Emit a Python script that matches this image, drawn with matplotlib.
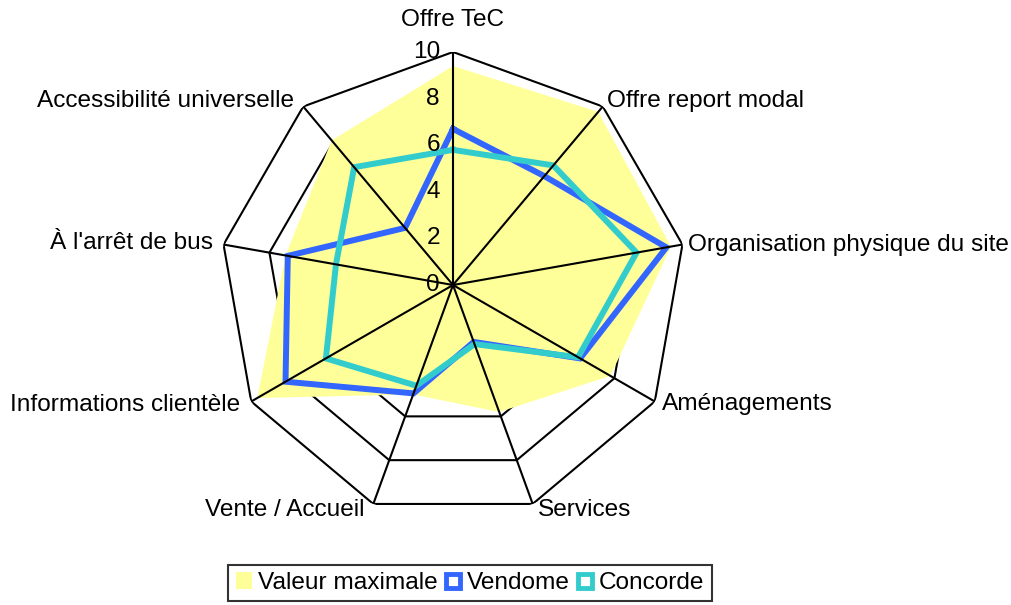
import numpy as np
import matplotlib
matplotlib.use("Agg")
import matplotlib.pyplot as plt
from matplotlib.lines import Line2D
from matplotlib.patches import Patch

plt.rcParams['font.family'] = ['Liberation Sans', 'DejaVu Sans']

categories = ["Offre TeC", "Offre report modal", "Organisation physique du site",
              "Aménagements", "Services", "Vente / Accueil",
              "Informations clientèle", "À l'arrêt de bus", "Accessibilité universelle"]
valeur_max = [9.4, 9.7, 9.5, 7.8, 5.8, 5.0, 9.7, 7.3, 8.1]
vendome = [6.7, 6.1, 9.3, 6.3, 2.6, 4.95, 8.3, 7.2, 3.2]
concorde = [5.8, 6.7, 8.0, 6.2, 2.7, 4.6, 6.3, 5.1, 6.6]
ticks = [0, 2, 4, 6, 8, 10]

W, H = 1012, 605
FS = 17.6
fig = plt.figure(figsize=(W / 100, H / 100), dpi=100)
cx, cy, R = 453, 285, 233
ax = fig.add_axes([(cx - R) / W, (H - cy - R) / H, 2 * R / W, 2 * R / H], projection='polar')
ax.set_theta_offset(np.pi / 2)
ax.set_theta_direction(-1)
ax.set_ylim(0, 10)
ax.grid(False)
ax.set_xticks([])
ax.set_yticks([])
ax.spines['polar'].set_visible(False)
ax.patch.set_visible(False)

n = len(categories)
theta = np.arange(n) * 2 * np.pi / n
tc = np.append(theta, theta[0])

def closed(v):
    return np.append(v, v[0])

# rings
for t in ticks[1:]:
    ax.plot(tc, [t] * (n + 1), color='black', lw=1.5, zorder=1)

# data
ax.fill(tc, closed(valeur_max), color='#FFFF99', lw=0, zorder=2)
ax.plot(tc, closed(vendome), color='#3366FF', lw=4.3, zorder=3, solid_joinstyle='miter')
ax.plot(tc, closed(concorde), color='#33CCCC', lw=4.3, zorder=4, solid_joinstyle='miter')

# spokes
for th in theta:
    ax.plot([th, th], [0, 10], color='black', lw=1.5, zorder=5)

# tick labels
for t in ticks:
    ax.annotate(str(t), xy=(0, t), xytext=(-13, 0), textcoords='offset pixels',
                ha='right', va='center', fontsize=FS, zorder=6)

# category labels
offsets = [(0, 32), (4, 6), (6, 0), (7, -3), (5, -6), (-9, -6), (-11, -3), (-11, 2), (-9, 6)]
for th, lab, off in zip(theta, categories, offsets):
    s = np.sin(th)
    if abs(s) < 1e-6:
        ha = 'center'
    elif s > 0:
        ha = 'left'
    else:
        ha = 'right'
    ax.annotate(lab, xy=(th, 10), xytext=off, textcoords='offset pixels',
                ha=ha, va='center', fontsize=FS, annotation_clip=False)

handles = [
    Patch(facecolor='#FFFF99', edgecolor='none'),
    Line2D([], [], ls='none', marker='s', markersize=10, markerfacecolor='white',
           markeredgecolor='#3366FF', markeredgewidth=3.5),
    Line2D([], [], ls='none', marker='s', markersize=10, markerfacecolor='white',
           markeredgecolor='#33CCCC', markeredgewidth=3.5),
]
leg = fig.legend(handles, ["Valeur maximale", "Vendome", "Concorde"], ncol=3,
                 loc='center', bbox_to_anchor=(470 / W, 1 - 583 / H),
                 fontsize=FS, frameon=True, fancybox=False, edgecolor='black',
                 handlelength=0.65, handleheight=0.65, handletextpad=0.25,
                 columnspacing=0.3, borderpad=0.3, borderaxespad=0)
leg.get_frame().set_linewidth(1.5)

fig.savefig("out.png", dpi=100)
